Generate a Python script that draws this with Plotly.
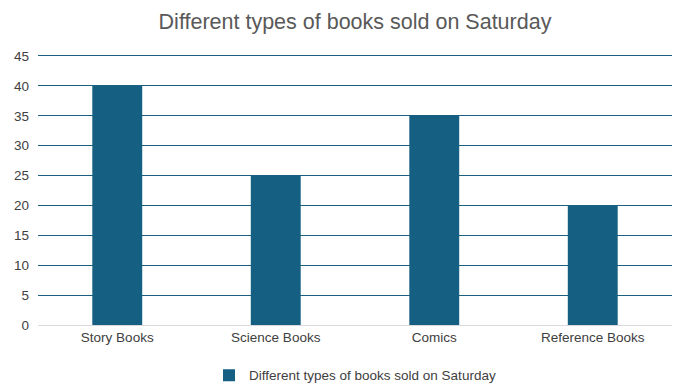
import plotly.graph_objects as go

categories = ["Story Books", "Science Books", "Comics", "Reference Books"]
values = [40, 25, 35, 20]
series_name = "Different types of books sold on Saturday"
y_ticks = [0, 5, 10, 15, 20, 25, 30, 35, 40, 45]

fig = go.Figure()
fig.add_trace(go.Bar(x=categories, y=values, name=series_name,
                     marker=dict(color="#156082", line=dict(width=0))))

fig.update_layout(
    width=685, height=391,
    margin=dict(l=38, r=13, t=53, b=66, autoexpand=False),
    paper_bgcolor="white", plot_bgcolor="white",
    font=dict(family="Liberation Sans, Arial, sans-serif", color="#595959", size=13),
    title=dict(text="Different types of books sold on Saturday", x=0.5, xanchor="center",
               xref="paper", y=0.945, yanchor="middle", font=dict(size=21.5, color="#595959")),
    bargap=0.685,
    showlegend=True,
    legend=dict(orientation="h", x=0.5, xanchor="center", y=0.04, yanchor="middle",
                yref="container", font=dict(size=13.5, color="#404040"),
                itemwidth=30),
    xaxis=dict(showgrid=False, showline=True, linecolor="#d9d9d9", linewidth=1,
               ticks="", automargin=False, tickfont=dict(size=13.5, color="#404040")),
    yaxis=dict(range=[0, 45.5], tickvals=y_ticks, showgrid=True, gridcolor="#1d5f7e",
               gridwidth=1, zeroline=False, showline=False, ticks="", automargin=False,
               ticklabelstandoff=8,
               tickfont=dict(size=13.5, color="#404040")),
)

fig.write_html("out.html", config={"displayModeBar": False},
               post_script="document.body.style.margin='0';")
